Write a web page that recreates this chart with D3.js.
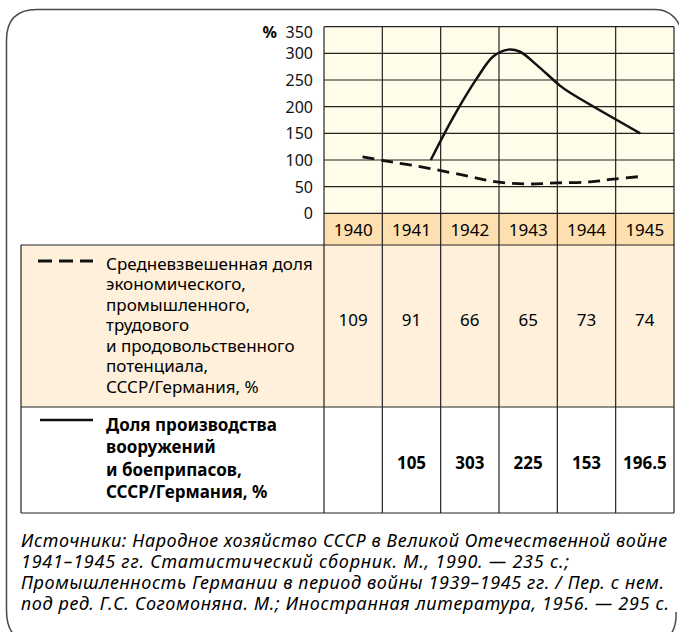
<!DOCTYPE html>
<meta charset="utf-8">
<style>
body { margin: 0; background: #fff; }
svg { font-family: "Noto Sans", "Open Sans", sans-serif; }
.rule { stroke: #222; stroke-width: 1.2; }
.tick text { font-size: 16px; fill: #111; }
</style>
<svg width="679" height="632"></svg>
<script src="https://cdn.jsdelivr.net/npm/d3@7"></script>
<script>
var years = [1940, 1941, 1942, 1943, 1944, 1945];
var yTicks = [0, 50, 100, 150, 200, 250, 300, 350];
// table rows
var potentialShare = [109, 91, 66, 65, 73, 74];
var armsShare = [null, 105, 303, 225, 153, 196.5];
// curves as drawn in the plot (position in years, value in %)
var potentialCurveYear = [1940.16, 1940.52, 1941.32, 1942.0, 1942.46, 1942.97, 1943.49, 1944.06, 1944.46, 1944.92];
var potentialCurveValue = [106, 99, 84, 69, 59, 55, 57, 59, 64, 69];
var armsCurveYear = [1941.33, 1941.72, 1942.12, 1942.40, 1942.66, 1942.86, 1943.15, 1943.55, 1943.72, 1944.92];
var armsCurveValue = [100, 181, 253, 294, 307, 303, 278, 239, 226, 150];

var potentialLabel = ["Средневзвешенная доля", "экономического,", "промышленного,", "трудового",
  "и продовольственного", "потенциала,", "СССР/Германия, %"];
var armsLabel = ["Доля производства", "вооружений", "и боеприпасов,", "СССР/Германия, %"];
var sources = [
  "Источники: Народное хозяйство СССР в Великой Отечественной войне",
  "1941–1945 гг. Статистический сборник. М., 1990. — 235 с.;",
  "Промышленность Германии в период войны 1939–1945 гг. / Пер. с нем.",
  "под ред. Г.С. Согомоняна. М.; Иностранная литература, 1956. — 295 с."
];
var sourceWidths = [646, 548, 643, 648];

var svg = d3.select("svg");
var plotLeft = 324, plotRight = 674, plotTop = 26.7, plotZero = 213.3,
    headBottom = 245, row1Bottom = 407, row2Bottom = 513, tableLeft = 21;

var x = d3.scaleBand().domain(years).range([plotLeft, plotRight]);
var xYear = d3.scaleLinear().domain([1939.5, 1945.5]).range([plotLeft, plotRight]);
var y = d3.scaleLinear().domain([0, 350]).range([plotZero, plotTop]);

// outer frame
svg.append("path")
    .attr("d", "M6.5,610 L6.5,40 Q6.5,9.5 37,9.5 L655,9.5 Q672,9.5 680,26 M6.5,610 Q6.5,636 24,640 M676,612 Q677,628 668,638")
    .attr("fill", "none")
    .attr("stroke", "#4a4a4a")
    .attr("stroke-width", 1.5);

// backgrounds
svg.append("rect").attr("x", plotLeft).attr("y", plotTop).attr("width", plotRight - plotLeft).attr("height", plotZero - plotTop).attr("fill", "#fffcea");
svg.append("rect").attr("x", plotLeft).attr("y", plotZero).attr("width", plotRight - plotLeft).attr("height", headBottom - plotZero).attr("fill", "#fedfb0");
svg.append("rect").attr("x", tableLeft).attr("y", headBottom).attr("width", plotRight - tableLeft).attr("height", row1Bottom - headBottom).attr("fill", "#fef0da");

// horizontal grid in plot
svg.append("g").selectAll("line")
  .data(yTicks)
  .enter().append("line")
    .attr("class", "rule")
    .attr("x1", plotLeft).attr("x2", plotRight)
    .attr("y1", function(d) { return y(d); })
    .attr("y2", function(d) { return y(d); });

// table rules
svg.append("g").selectAll("line")
  .data([headBottom, row1Bottom, row2Bottom])
  .enter().append("line")
    .attr("class", "rule")
    .attr("x1", tableLeft).attr("x2", plotRight)
    .attr("y1", function(d) { return d; })
    .attr("y2", function(d) { return d; });
svg.append("line").attr("class", "rule")
    .attr("x1", tableLeft).attr("x2", tableLeft).attr("y1", headBottom).attr("y2", row2Bottom);

// column rules
svg.append("g").selectAll("line")
  .data(years.concat([null]))
  .enter().append("line")
    .attr("class", "rule")
    .attr("x1", function(d) { return d === null ? plotRight : x(d); })
    .attr("x2", function(d) { return d === null ? plotRight : x(d); })
    .attr("y1", plotTop).attr("y2", row2Bottom);

// y axis labels
var yAxis = svg.append("g")
    .attr("transform", "translate(313,0)")
    .call(d3.axisLeft(y).tickValues(yTicks).tickSize(0).tickPadding(0));
yAxis.select(".domain").remove();
yAxis.attr("font-family", null).attr("font-size", null);
yAxis.selectAll(".tick text")
    .attr("dy", function(d) { return d === 350 ? "0.67em" : "0.35em"; });
svg.append("text")
    .attr("x", 277).attr("y", 38)
    .attr("text-anchor", "end")
    .attr("font-size", 16).attr("font-weight", "bold")
    .text("%");

// curves
var potentialPts = potentialCurveYear.map(function(d, i) { return [d, potentialCurveValue[i]]; });
var armsPts = armsCurveYear.map(function(d, i) { return [d, armsCurveValue[i]]; });
var line = d3.line()
    .x(function(d) { return xYear(d[0]); })
    .y(function(d) { return y(d[1]); })
    .curve(d3.curveCatmullRom);
svg.append("path").datum(potentialPts)
    .attr("d", line).attr("fill", "none")
    .attr("stroke", "#111").attr("stroke-width", 2.8)
    .attr("stroke-dasharray", "12,7");
svg.append("path").datum(armsPts)
    .attr("d", line).attr("fill", "none")
    .attr("stroke", "#111").attr("stroke-width", 2.5);

// year header
svg.append("g").selectAll("text")
  .data(years)
  .enter().append("text")
    .attr("x", function(d) { return x(d) + x.bandwidth() / 2; })
    .attr("y", 236)
    .attr("text-anchor", "middle")
    .attr("font-size", 17)
    .text(function(d) { return d; });

// row values
svg.append("g").selectAll("text")
  .data(potentialShare)
  .enter().append("text")
    .attr("x", function(d, i) { return x(years[i]) + x.bandwidth() / 2; })
    .attr("y", 326)
    .attr("text-anchor", "middle")
    .attr("font-size", 17)
    .text(function(d) { return d; });
svg.append("g").selectAll("text")
  .data(armsShare)
  .enter().append("text")
    .attr("x", function(d, i) { return x(years[i]) + x.bandwidth() / 2; })
    .attr("y", 469)
    .attr("text-anchor", "middle")
    .attr("font-size", 17)
    .attr("font-weight", "bold")
    .text(function(d) { return d === null ? "" : d; });

// legend cells
svg.append("line")
    .attr("x1", 38).attr("x2", 93).attr("y1", 261).attr("y2", 261)
    .attr("stroke", "#111").attr("stroke-width", 2.8)
    .attr("stroke-dasharray", "14,7");
svg.append("text")
    .attr("font-size", 17)
    .selectAll("tspan")
  .data(potentialLabel)
  .enter().append("tspan")
    .attr("x", 106)
    .attr("y", function(d, i) { return 269.5 + i * 20.5; })
    .text(function(d) { return d; });

svg.append("line")
    .attr("x1", 40).attr("x2", 93).attr("y1", 420).attr("y2", 420)
    .attr("stroke", "#111").attr("stroke-width", 2.5);
svg.append("text")
    .attr("font-size", 17).attr("font-weight", "bold")
    .selectAll("tspan")
  .data(armsLabel)
  .enter().append("tspan")
    .attr("x", 106)
    .attr("y", function(d, i) { return 431 + i * 22.3; })
    .text(function(d) { return d; });

// sources
svg.append("g").selectAll("text")
  .data(sources)
  .enter().append("text")
    .attr("x", 21)
    .attr("y", function(d, i) { return 547 + i * 21; })
    .attr("font-size", 18)
    .attr("font-style", "italic")
    .attr("textLength", function(d, i) { return sourceWidths[i]; })
    .attr("lengthAdjust", "spacing")
    .text(function(d) { return d; });
</script>
